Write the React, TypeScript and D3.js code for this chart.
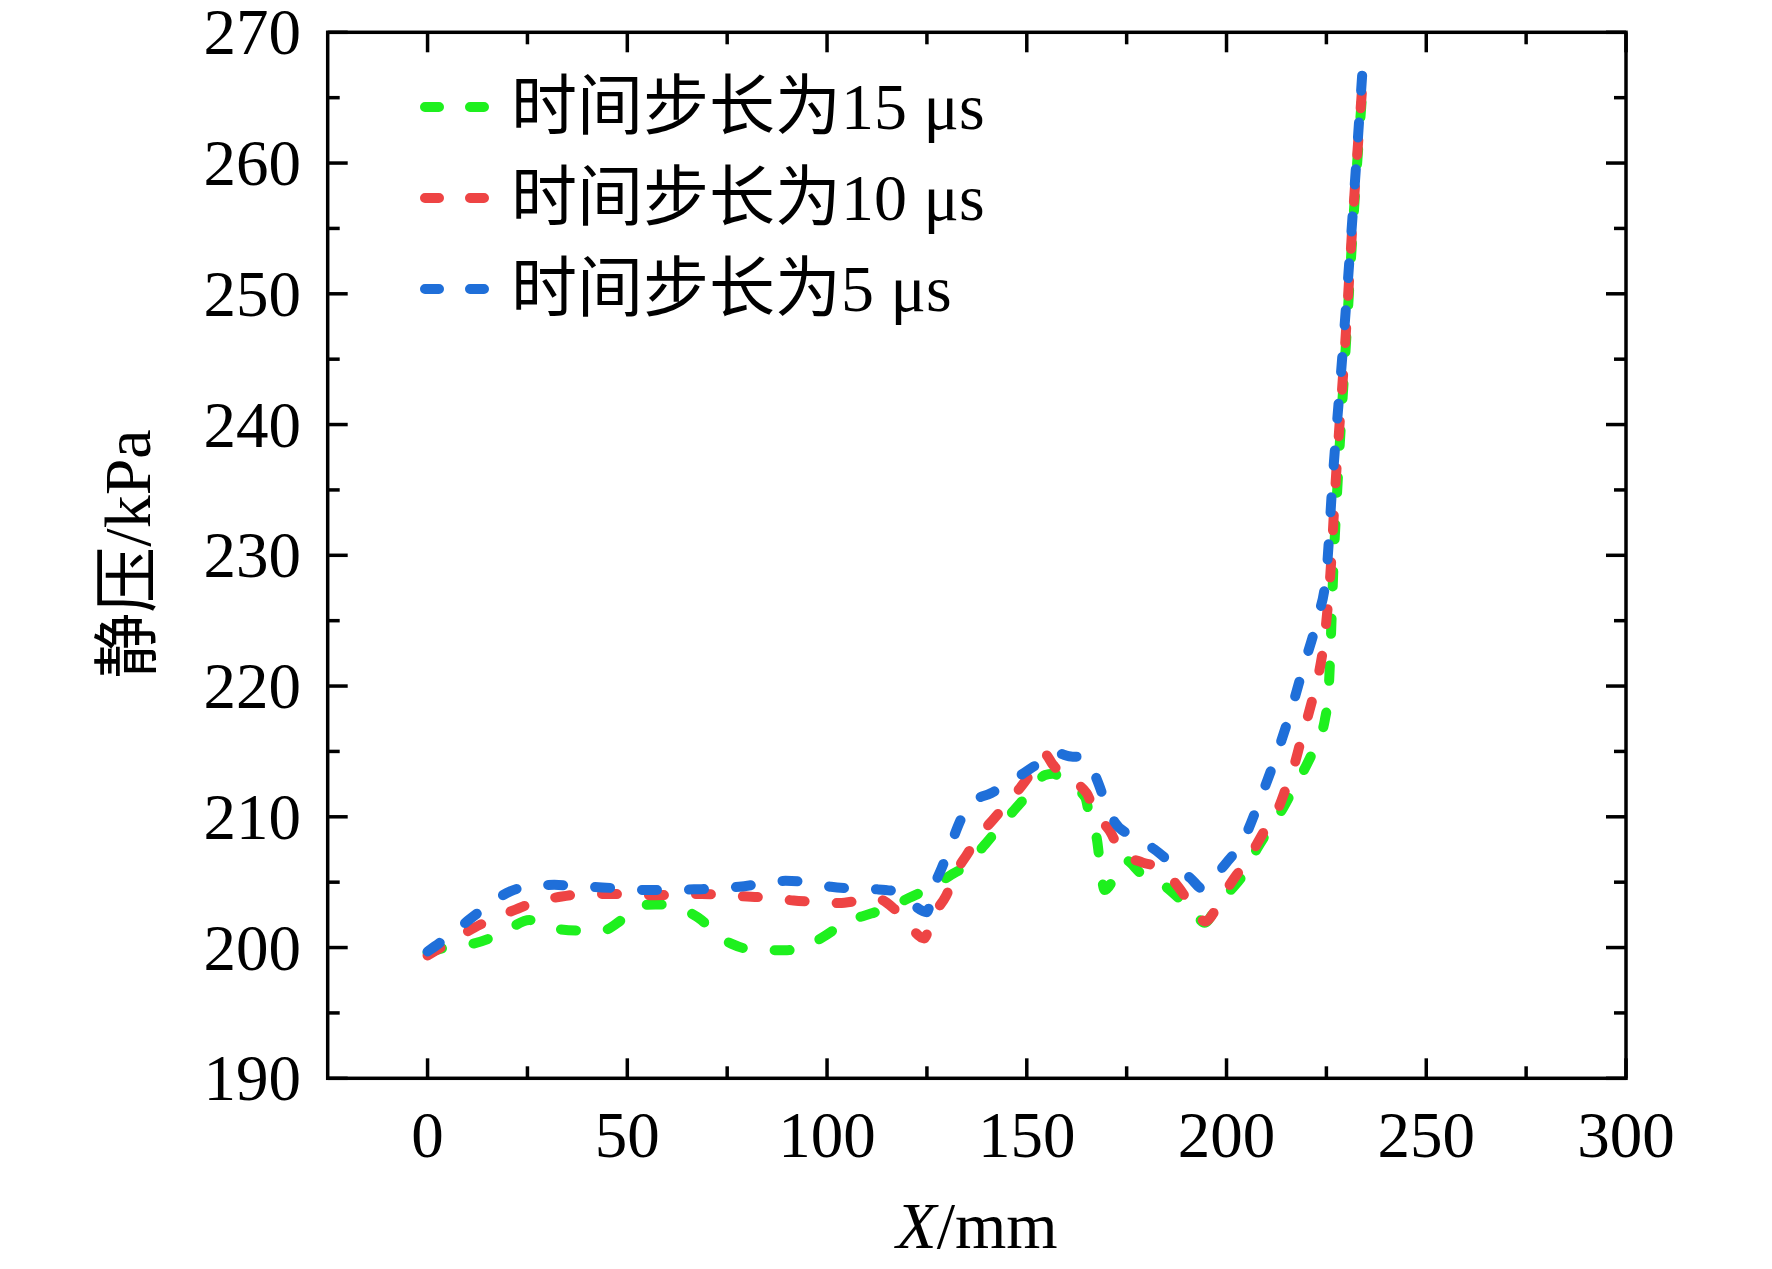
import * as d3 from 'd3'

// x in mm, static pressure in kPa
const step15: [number, number][] = [
  [0, 199.6], [4.5, 200.0], [10, 200.2], [15.5, 200.7], [20.7, 201.5], [25.5, 202.1], [29, 201.7],
  [33, 201.4], [38, 201.3], [43.7, 201.3], [48.5, 202.1], [53, 203.2], [57, 203.3], [61, 203.2],
  [64, 202.9], [68.6, 202.1], [72.5, 200.9], [76, 200.3], [80, 199.9], [85, 199.8], [90, 199.8],
  [94, 200.0], [99, 200.8], [103, 201.6], [107, 202.2], [111, 202.6], [115, 203.0], [120.6, 203.8],
  [126.3, 204.65], [131, 205.55], [135, 206.3], [139.3, 207.8], [142.6, 209], [146.8, 210.5],
  [150.3, 211.7], [154.6, 213.2], [156.5, 213.3], [159.4, 212.7], [164.6, 211.5], [165.8, 209.9],
  [167.6, 208.2], [168.4, 206.2], [169.5, 204.4], [172.7, 205.8], [174.6, 206.7], [178.5, 205.7],
  [183.7, 204.9], [188, 203.8], [192.3, 202.5], [194.5, 201.9], [197, 202.8], [200.5, 204.2],
  [203.8, 205.4], [207.7, 207.6], [211, 209.2], [214.2, 210.7], [217, 212.3], [220.1, 214],
  [222.5, 215.6], [224.6, 217.4], [225.6, 219.9], [226.1, 223.5], [226.7, 228.6], [227.8, 235.5],
  [229.8, 245.7], [231.95, 256.6], [234.3, 266.7],
]

const step10: [number, number][] = [
  [0, 199.4], [5, 200.3], [11.6, 201.5], [17, 202.3], [22, 202.9], [27, 203.5], [33.6, 203.9],
  [39, 204.1], [45, 204.1], [51, 204.05], [57, 204.0], [63, 204.05], [68.6, 204.1], [74, 204.0],
  [80, 203.9], [86, 203.8], [91.6, 203.6], [97, 203.5], [103, 203.4], [108, 203.6], [112, 203.8],
  [116.3, 203.1], [120, 201.9], [124.3, 200.7], [126.3, 202.3], [129.7, 203.9], [132.5, 205.9],
  [135, 207.1], [138, 208.5], [141.6, 209.8], [145, 211], [149.3, 212.6], [152, 213.8],
  [154.5, 214.8], [156.5, 214], [159.3, 213.1], [165, 211.8], [167, 210.4], [170.8, 208.9],
  [173.7, 207.3], [179, 206.5], [183.5, 206.1], [188, 204.6], [190.8, 203.4], [194.7, 202.0],
  [198, 203.3], [200.4, 204.6], [204, 206.2], [207, 207.6], [210, 209.2], [212.9, 210.6],
  [215, 212.3], [217, 214], [218.6, 215.8], [220.1, 217.4], [221.6, 219.1], [223, 220.8],
  [224.8, 224.4], [226, 228.6], [227.3, 235.5], [229.6, 245.7], [231.8, 256.6], [234.3, 267.1],
]

const step5: [number, number][] = [
  [0, 199.7], [5, 200.8], [10.7, 202.2], [15, 203.2], [20.7, 204.3], [26, 204.7], [31.7, 204.8],
  [37, 204.7], [43.7, 204.6], [49, 204.5], [55, 204.4], [61, 204.4], [66.7, 204.45], [72, 204.5],
  [78, 204.65], [84, 204.9], [89.6, 205.1], [95, 205.0], [101, 204.65], [107, 204.5],
  [112.6, 204.45], [117, 204.3], [121, 203.4], [125, 202.7], [126.5, 204.4], [129, 206.3],
  [131.5, 208.3], [133.5, 209.8], [136, 211.1], [141, 211.8], [146, 212.7], [151, 213.7],
  [154, 214.3], [157, 214.9], [161.5, 214.6], [164, 214.6], [166, 213.9], [168, 212.5],
  [170, 210.8], [172, 209.6], [176.5, 208.5], [182, 207.5], [186, 206.5], [191, 205.3],
  [194, 204.5], [196.6, 205.3], [200, 206.5], [204, 208.1], [208.6, 211.5], [212.6, 214.8],
  [216.2, 218.2], [219.4, 221.6], [222.7, 225.1], [225, 228.6], [226.5, 235.5], [229.1, 245.7],
  [231.7, 256.6], [234.3, 268.3],
]

const seriesLabels = ['时间步长为15 μs', '时间步长为10 μs', '时间步长为5 μs']
const seriesColors = ['#1ef01e', '#ee4444', '#1f6fd9']
const xTicks = [0, 50, 100, 150, 200, 250, 300]
const xMinorTicks = [25, 75, 125, 175, 225, 275]
const yTicks = [190, 200, 210, 220, 230, 240, 250, 260, 270]
const yMinorTicks = [195, 205, 215, 225, 235, 245, 255, 265]

const font = '"Liberation Serif", "Times New Roman", "Noto Sans CJK SC", serif'

export default function App() {
  const width = 1772
  const height = 1269
  const plot = { left: 327.7, right: 1626, top: 32.3, bottom: 1078.3 }

  const x = d3.scaleLinear().domain([-25, 300]).range([plot.left, plot.right])
  const y = d3.scaleLinear().domain([190, 270]).range([plot.bottom, plot.top])

  const line = d3
    .line<[number, number]>()
    .x((d) => x(d[0]))
    .y((d) => y(d[1]))
    .curve(d3.curveMonotoneX)

  const series = [step15, step10, step5]
  const major = 20
  const minor = 12

  return (
    <svg
      width={width}
      height={height}
      viewBox={`0 0 ${width} ${height}`}
      style={{ position: 'absolute', left: 0, top: 0, background: '#fff', fontFamily: font }}
    >
      <rect x={0} y={0} width={width} height={height} fill="#fff" />

      {series.map((data, i) => (
        <path
          key={seriesLabels[i]}
          d={line(data) ?? ''}
          fill="none"
          stroke={seriesColors[i]}
          strokeWidth={10}
          strokeLinecap="round"
          strokeLinejoin="round"
          strokeDasharray="15 32"
        />
      ))}

      {/* frame */}
      <rect
        x={plot.left}
        y={plot.top}
        width={plot.right - plot.left}
        height={plot.bottom - plot.top}
        fill="none"
        stroke="#000"
        strokeWidth={3.5}
      />

      {xTicks.map((tick) => (
        <g key={`x${tick}`}>
          <line x1={x(tick)} x2={x(tick)} y1={plot.bottom} y2={plot.bottom - major} stroke="#000" strokeWidth={3.5} />
          <line x1={x(tick)} x2={x(tick)} y1={plot.top} y2={plot.top + major} stroke="#000" strokeWidth={3.5} />
          <text x={x(tick)} y={1157} textAnchor="middle" fontSize={65} fill="#000">
            {tick}
          </text>
        </g>
      ))}
      {xMinorTicks.map((tick) => (
        <g key={`xm${tick}`}>
          <line x1={x(tick)} x2={x(tick)} y1={plot.bottom} y2={plot.bottom - minor} stroke="#000" strokeWidth={3.5} />
          <line x1={x(tick)} x2={x(tick)} y1={plot.top} y2={plot.top + minor} stroke="#000" strokeWidth={3.5} />
        </g>
      ))}

      {yTicks.map((tick) => (
        <g key={`y${tick}`}>
          <line x1={plot.left} x2={plot.left + major} y1={y(tick)} y2={y(tick)} stroke="#000" strokeWidth={3.5} />
          <line x1={plot.right} x2={plot.right - major} y1={y(tick)} y2={y(tick)} stroke="#000" strokeWidth={3.5} />
          <text x={301} y={y(tick) + 22} textAnchor="end" fontSize={65} fill="#000">
            {tick}
          </text>
        </g>
      ))}
      {yMinorTicks.map((tick) => (
        <g key={`ym${tick}`}>
          <line x1={plot.left} x2={plot.left + minor} y1={y(tick)} y2={y(tick)} stroke="#000" strokeWidth={3.5} />
          <line x1={plot.right} x2={plot.right - minor} y1={y(tick)} y2={y(tick)} stroke="#000" strokeWidth={3.5} />
        </g>
      ))}

      {/* axis titles */}
      <text x={977} y={1248} textAnchor="middle" fontSize={66} fill="#000">
        <tspan fontStyle="italic">X</tspan>/mm
      </text>
      <text
        transform="translate(150,554) rotate(-90)"
        textAnchor="middle"
        fontSize={66}
        fill="#000"
      >
        静压/kPa
      </text>

      {/* legend */}
      {seriesLabels.map((label, i) => {
        const ly = 107 + i * 91
        return (
          <g key={label}>
            <line
              x1={425}
              x2={486}
              y1={ly}
              y2={ly}
              stroke={seriesColors[i]}
              strokeWidth={10}
              strokeLinecap="round"
              strokeDasharray="14 31"
            />
            <text x={511} y={ly + 22} fontSize={66} fill="#000">
              {label}
            </text>
          </g>
        )
      })}
    </svg>
  )
}
